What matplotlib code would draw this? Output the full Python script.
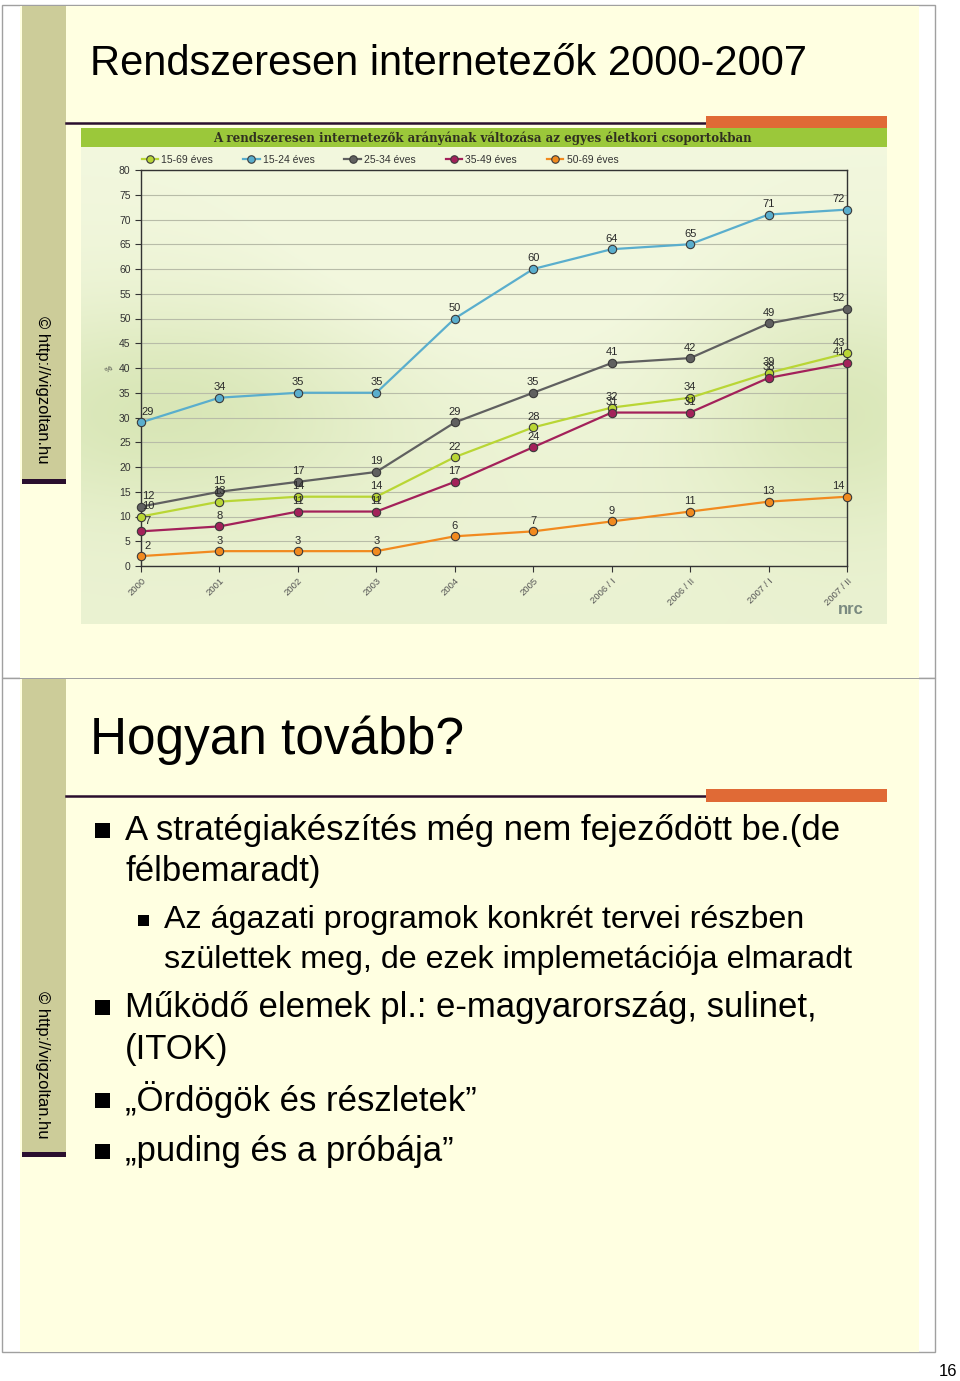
import numpy as np
import matplotlib
matplotlib.use('Agg')
import matplotlib.pyplot as plt
from matplotlib.patches import Rectangle

# chart data
periods = ['2000', '2001', '2002', '2003', '2004', '2005',
           '2006 / I', '2006 / II', '2007 / I', '2007 / II']
s15_69 = [10, 13, 14, 14, 22, 28, 32, 34, 39, 43]
s15_24 = [29, 34, 35, 35, 50, 60, 64, 65, 71, 72]
s25_34 = [12, 15, 17, 19, 29, 35, 41, 42, 49, 52]
s35_49 = [7, 8, 11, 11, 17, 24, 31, 31, 38, 41]
s50_69 = [2, 3, 3, 3, 6, 7, 9, 11, 13, 14]
names = ['15-69 éves', '15-24 éves', '25-34 éves', '35-49 éves', '50-69 éves']
colors = ['#b9d635', '#5aaecd', '#606060', '#a3215a', '#f18a1f']

title1 = 'Rendszeresen internetezők 2000-2007'
chart_title = 'A rendszeresen internetezők arányának változása az egyes életkori csoportokban'
title2 = 'Hogyan tovább?'
bullets = [
    (0, ['A stratégiakészítés még nem fejeződött be.(de', 'félbemaradt)']),
    (1, ['Az ágazati programok konkrét tervei részben',
         'születtek meg, de ezek implemetációja elmaradt']),
    (0, ['Működő elemek pl.: e-magyarország, sulinet,', '(ITOK)']),
    (0, ['„Ördögök és részletek”']),
    (0, ['„puding és a próbája”']),
]
side_text = '© http://vigzoltan.hu'

plt.rcParams['font.family'] = ['Liberation Sans', 'DejaVu Sans']

W, H = 960, 1381
fig = plt.figure(figsize=(9.6, 13.81), dpi=100)
bg = fig.add_axes([0, 0, 1, 1])
bg.set_xlim(0, W)
bg.set_ylim(H, 0)
bg.axis('off')

slide_bg = '#ffffe1'
side_col = '#cccc99'
dark = '#2a0f2e'
orange = '#e06a36'

for top, bot, side_end, text_y in [(5, 678, 479, 390), (678, 1352, 1152, 1065)]:
    bg.add_patch(Rectangle((2, top), 933, bot - top, fc='white', ec='#a0a0a0', lw=1, zorder=0))
    bg.add_patch(Rectangle((20, top + 1), 899, bot - top - 1, fc=slide_bg, ec='none', zorder=1))
    bg.add_patch(Rectangle((22, top + 1), 44, side_end - top - 1, fc=side_col, ec='none', zorder=2))
    bg.add_patch(Rectangle((22, side_end), 44, 5, fc=dark, ec='none', zorder=2))
    bg.text(42, text_y, side_text, rotation=-90, ha='center', va='center',
            fontsize=12, zorder=3)

# title rules
bg.plot([66, 706], [123, 123], color=dark, lw=1.8, zorder=3)
bg.add_patch(Rectangle((706, 116), 181, 12, fc=orange, ec='none', zorder=3))
bg.plot([66, 706], [796, 796], color=dark, lw=1.8, zorder=3)
bg.add_patch(Rectangle((706, 789), 181, 13, fc=orange, ec='none', zorder=3))

bg.text(90, 64, title1, fontsize=30, ha='left', va='center', zorder=3)
bg.text(90, 740, title2, fontsize=37, ha='left', va='center', zorder=3)

# chart picture background
gy, gx = np.mgrid[0:1:240j, 0:1:400j]
t = 0.2 * gy
t += 0.55 * np.exp(-(((gx - 0.1) / 0.28) ** 2 + ((gy - 0.55) / 0.22) ** 2))
t += 0.5 * np.exp(-(((gx - 0.95) / 0.18) ** 2 + ((gy - 0.55) / 0.25) ** 2))
t -= 0.25 * np.exp(-(((gx - 0.5) / 0.22) ** 2 + ((gy - 0.2) / 0.25) ** 2))
t = np.clip(t, 0, 1)[..., None]
light = np.array([0.95, 0.97, 0.87])
deep = np.array([0.80, 0.87, 0.64])
img = light * (1 - t) + deep * t
bg.imshow(img, extent=(81, 887, 624, 147), aspect='auto', zorder=2)
bg.add_patch(Rectangle((81, 128), 806, 19, fc='#9bc83a', ec='none', zorder=3))
bg.text(482, 138.5, chart_title, fontsize=8.6, fontweight='bold', family='DejaVu Serif',
        ha='center', va='center', color='#303020', zorder=4)
bg.text(851, 609, 'nrc', fontsize=12, fontweight='bold', ha='center', va='center',
        color='#7a8a80', zorder=4)

# the chart
ax = fig.add_axes([141 / W, (H - 566) / H, (847 - 141) / W, (566 - 170) / H])
ax.set_facecolor('none')
x = np.arange(len(periods))
all_series = [s15_69, s15_24, s25_34, s35_49, s50_69]
for vals, name, col in zip(all_series, names, colors):
    ax.plot(x, vals, color=col, lw=1.6, marker='o', ms=6, mfc=col, mec='#3a3a3a',
            mew=0.8, label=name, clip_on=False, zorder=3)
    for i, v in enumerate(vals):
        dx = 5 if i == 0 else (-6 if i == len(vals) - 1 else 0)
        ax.annotate(str(v), (x[i], v), xytext=(dx, 4), textcoords='offset points',
                    ha='center', va='bottom', fontsize=8, color='#2a2a2a', zorder=4)

ax.set_xlim(0, len(periods) - 1)
ax.set_ylim(0, 80)
ax.set_yticks(range(0, 81, 5))
ax.yaxis.grid(True, color='#b8bca8', lw=0.8)
ax.set_axisbelow(True)
ax.set_xticks(x)
ax.set_xticklabels(periods, rotation=45, ha='right', va='top', rotation_mode='anchor',
                   fontsize=6.8, color='#555555')
ax.tick_params(axis='y', labelsize=7.5, colors='#333333', length=4, width=0.8)
ax.tick_params(axis='x', length=4, width=0.8, color='#333333')
for sp in ax.spines.values():
    sp.set_color('#333333')
    sp.set_linewidth(1.0)
ax.text(-0.045, 0.495, '%', transform=ax.transAxes, fontsize=6, color='#444444',
        ha='center', va='center', rotation=30)
ax.legend(ncol=5, loc='lower left', bbox_to_anchor=(-0.005, 1.003), frameon=False,
          fontsize=7.5, handlelength=1.6, handletextpad=0.3, columnspacing=2.85,
          borderaxespad=0, markerscale=0.9, labelcolor='#333333')

# bullet text
line_y = [830, 871, 920, 960, 1007, 1049, 1100, 1151]
k = 0
for level, lines in bullets:
    y0 = line_y[k]
    if level == 0:
        bg.add_patch(Rectangle((95, y0 - 7), 15, 15, fc='black', ec='none', zorder=3))
        tx, fs = 125, 25
    else:
        bg.add_patch(Rectangle((138, y0 - 5), 11, 11, fc='black', ec='none', zorder=3))
        tx, fs = 164, 23.2
    for ln in lines:
        bg.text(tx, line_y[k], ln, fontsize=fs, ha='left', va='center', zorder=3)
        k += 1

bg.text(948, 1371, '16', fontsize=12, ha='center', va='center')

fig.savefig('out.png', dpi=100)
